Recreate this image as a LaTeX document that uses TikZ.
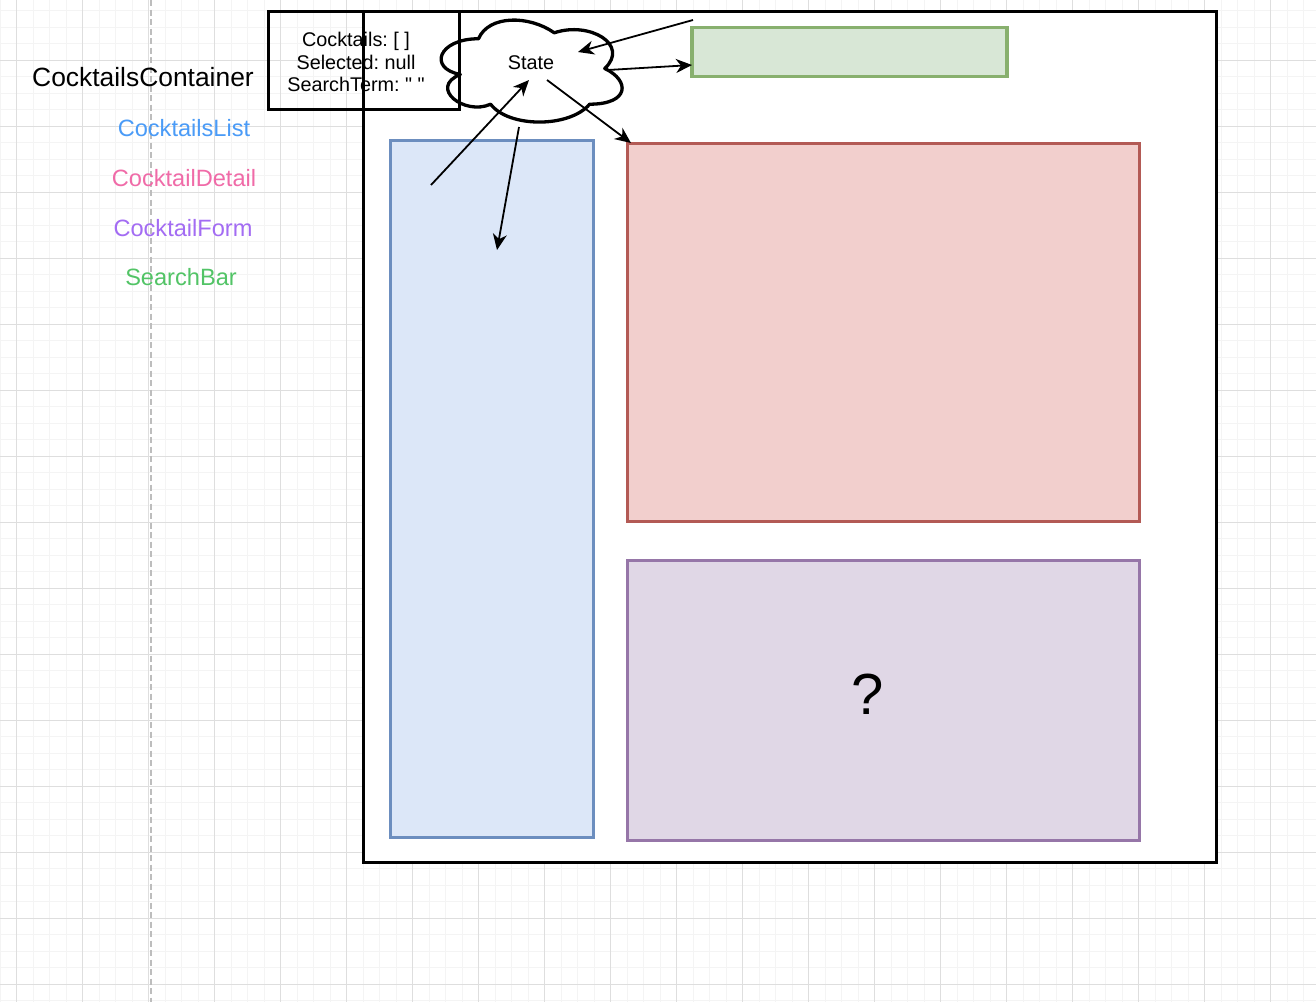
\documentclass[tikz,border=0pt]{standalone}
\usepackage{fontspec}
\setmainfont{Liberation Sans}[Ligatures=TeXOff]
\usetikzlibrary{arrows.meta}
\frenchspacing
\definecolor{gridminor}{HTML}{F4F4F4}
\definecolor{gridmajor}{HTML}{DEDEDE}
\definecolor{guide}{HTML}{BDBDBD}
\definecolor{blueFill}{HTML}{DCE7F8}
\definecolor{blueLine}{HTML}{6C8EBF}
\definecolor{redFill}{HTML}{F2CFCD}
\definecolor{redLine}{HTML}{B35A55}
\definecolor{greenFill}{HTML}{D8E7D6}
\definecolor{greenLine}{HTML}{88B06E}
\definecolor{purpleFill}{HTML}{E0D7E6}
\definecolor{purpleLine}{HTML}{9676A8}
\definecolor{lblBlue}{HTML}{4A9BF7}
\definecolor{lblPink}{HTML}{F06BA8}
\definecolor{lblPurple}{HTML}{A36CF3}
\definecolor{lblGreen}{HTML}{52C466}
\begin{document}
\frenchspacing
\begin{tikzpicture}[x=1pt,y=-1pt,
  minorline/.style={gridminor,line width=1pt},
  majorline/.style={gridmajor,line width=1pt},
  compbox/.style={draw,line width=3.3pt,inner sep=0pt,outer sep=0pt,anchor=north west},
  conn/.style={line width=1.8pt,-{Stealth[length=16pt,width=14pt,inset=5pt]}},
  bigtxt/.style={font=\fontsize{26.4}{30}\selectfont,inner sep=0pt},
  lbltxt/.style={font=\fontsize{23.6}{28}\selectfont,inner sep=0pt},
  smalltxt/.style={font=\fontsize{19.8}{22.8}\selectfont\frenchspacing,inner sep=0pt,align=center}]
\useasboundingbox (0,0) rectangle (1316,1002);
\fill[white] (0,0) rectangle (1316,1002);
% grid
\foreach \k in {0,...,79} {\pgfmathsetmacro\gx{0.2+16.5*\k}\draw[minorline] (\gx,0) -- (\gx,1002);}
\foreach \k in {-1,...,60} {\pgfmathsetmacro\gy{10.8+16.5*\k}\draw[minorline] (0,\gy) -- (1316,\gy);}
\foreach \k in {0,...,19} {\pgfmathsetmacro\gx{16.7+66*\k}\draw[majorline] (\gx,0) -- (\gx,1002);}
\foreach \k in {-1,...,14} {\pgfmathsetmacro\gy{60.3+66*\k}\draw[majorline] (0,\gy) -- (1316,\gy);}
\draw[guide,line width=1.7pt,dash pattern=on 6pt off 3.5pt] (151,0) -- (151,1002);
% legend
\node[bigtxt] (lcont) at (143,77) {CocktailsContainer};
\node[lbltxt,text=lblBlue] (llist) at (184,128) {CocktailsList};
\node[lbltxt,text=lblPink] (ldetail) at (184,178) {CocktailDetail};
\node[lbltxt,text=lblPurple] (lform) at (183,228) {CocktailForm};
\node[lbltxt,text=lblGreen] (lsearch) at (181,277) {SearchBar};
% container
\node[compbox,fill=white,minimum width=853pt,minimum height=851pt] (outer) at (363.5,11.5) {};
\node[compbox,minimum width=191pt,minimum height=98pt] (statebox) at (268.5,11.5) {};
\node[smalltxt] (statetxt) at (356,62) {Cocktails: [ ]\\Selected: null\\SearchTerm: "\ "};
\node[compbox,draw=greenLine,fill=greenFill,minimum width=315pt,minimum height=49pt] (search) at (692,27.5) {};
\node[compbox,draw=blueLine,fill=blueFill,minimum width=203pt,minimum height=697pt] (list) at (390.5,140.5) {};
\node[compbox,draw=redLine,fill=redFill,minimum width=512pt,minimum height=378pt] (detail) at (627.5,143.5) {};
\node[compbox,draw=purpleLine,fill=purpleFill,minimum width=512pt,minimum height=280pt] (form) at (627.5,560.5) {};
\node[font=\fontsize{58}{62}\selectfont,inner sep=0pt] (qmark) at (868,694) {?};
% cloud
\begin{scope}[shift={(428,9)},x=202pt,y=-119pt]
\draw[line width=3.3pt,line join=round] (0.25,0.25)
  .. controls (0.05,0.25) and (0,0.5) .. (0.16,0.55)
  .. controls (0,0.66) and (0.18,0.9) .. (0.31,0.8)
  .. controls (0.4,1) and (0.7,1) .. (0.8,0.8)
  .. controls (1,0.8) and (1,0.6) .. (0.875,0.5)
  .. controls (1,0.3) and (0.8,0.1) .. (0.625,0.2)
  .. controls (0.5,0.05) and (0.3,0.05) .. (0.25,0.25) -- cycle;
\end{scope}
\node[smalltxt] (state) at (531,63) {State};
% connectors
\coordinate (a1s) at (693,20);
\coordinate (a1e) at (578,52);
\coordinate (a2s) at (608,70);
\coordinate (a2e) at (692,65);
\coordinate (a3s) at (547,80);
\coordinate (a3e) at (631,143);
\coordinate (a4s) at (431,185);
\coordinate (a4e) at (529,80);
\coordinate (a5s) at (519,127);
\coordinate (a5e) at (497,250);
\draw[conn] (a1s) -- (a1e);
\draw[conn] (a2s) -- (a2e);
\draw[conn] (a3s) -- (a3e);
\draw[conn] (a4s) -- (a4e);
\draw[conn] (a5s) -- (a5e);
\end{tikzpicture}
\end{document}
